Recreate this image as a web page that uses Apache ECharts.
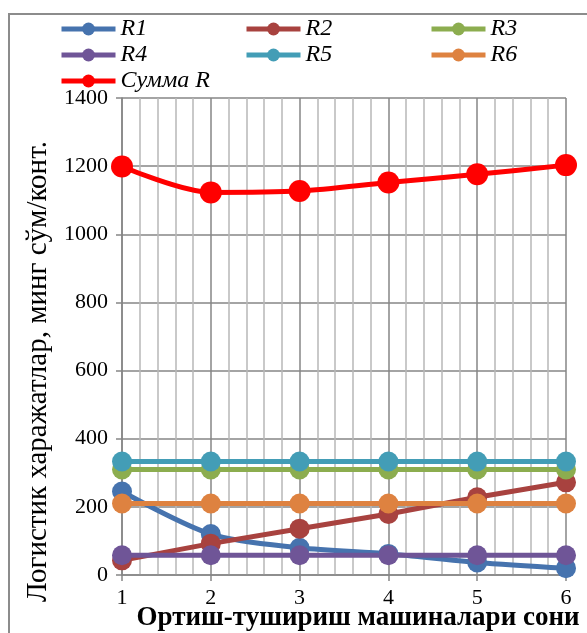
<!DOCTYPE html>
<html>
<head>
<meta charset="utf-8">
<script src="https://cdn.jsdelivr.net/npm/echarts@6/dist/echarts.min.js"></script>
<style>
  html, body { margin: 0; padding: 0; background: #fff; }
  #chart { width: 587px; height: 633px; }
</style>
</head>
<body>
<div id="chart"></div>
<script>
// Number of loading/unloading machines
const machines = [1, 2, 3, 4, 5, 6];

// Logistic cost components, thousand sum per container
const r1 = [245, 120, 80, 62, 37, 20];
const r2 = [43, 92, 136, 179, 228, 272];
const r3 = [310, 310, 310, 310, 310, 310];
const r4 = [58, 58, 58, 58, 58, 58];
const r5 = [333, 333, 333, 333, 333, 333];
const r6 = [210, 210, 210, 210, 210, 210];
const sumR = [1199, 1123, 1127, 1152, 1176, 1203];

const yTicks = [0, 200, 400, 600, 800, 1000, 1200, 1400];

const seriesNames = ['R1', 'R2', 'R3', 'R4', 'R5', 'R6', 'Сумма R'];
const seriesData = [r1, r2, r3, r4, r5, r6, sumR];
const seriesColors = ['#4673AE', '#A8423F', '#8CAD4F', '#6F5597', '#439DB6', '#DE8240', '#FF0000'];

const FONT = '"Liberation Serif", "Times New Roman", serif';

const chart = echarts.init(document.getElementById('chart'));

const series = seriesNames.map((name, i) => ({
  name,
  type: 'line',
  data: machines.map((m, j) => [m, seriesData[i][j]]),
  smooth: (i === 0 || i === 6) ? 0.3 : false,
  symbol: 'circle',
  symbolSize: i === 6 ? 22 : 20,
  showSymbol: true,
  lineStyle: { width: 5, color: seriesColors[i] },
  itemStyle: { color: seriesColors[i] },
  emphasis: { disabled: true },
  animation: false
}));

function legendColumn(left, names) {
  return {
    orient: 'vertical',
    left,
    top: 11,
    itemWidth: 54,
    itemHeight: 16,
    itemGap: 0,
    data: names,
    lineStyle: { width: 5 },
    textStyle: {
      fontFamily: FONT, fontStyle: 'italic', fontSize: 24, lineHeight: 26,
      color: '#000', padding: [0, 0, 0, 0]
    }
  };
}

chart.setOption({
  animation: false,
  backgroundColor: '#fff',
  legend: [
    legendColumn(54, ['R1', 'R4', 'Сумма R']),
    legendColumn(239, ['R2', 'R5']),
    legendColumn(424, ['R3', 'R6'])
  ],
  grid: { left: 122, right: 21, top: 98, bottom: 58, containLabel: false, outerBoundsMode: 'none' },
  xAxis: {
    type: 'value',
    min: 1,
    max: 6,
    interval: 1,
    name: 'Ортиш-тушириш машиналари сони',
    nameLocation: 'middle',
    nameGap: 30,
    nameMoveOverlap: false,
    nameTextStyle: { fontFamily: FONT, fontWeight: 'bold', fontSize: 27, color: '#000', padding: [0, 0, 0, 28] },
    axisLine: { show: true, onZero: false, lineStyle: { color: '#868686', width: 1.5 } },
    axisTick: { show: true, length: 6, lineStyle: { color: '#868686', width: 1.5 } },
    minorTick: { show: false, splitNumber: 5 },
    axisLabel: { fontFamily: FONT, fontSize: 22, color: '#000', margin: 12 },
    splitLine: { show: true, lineStyle: { color: '#868686', width: 1.5 } },
    minorSplitLine: { show: true, lineStyle: { color: '#b8b8b8', width: 1.5 } }
  },
  yAxis: {
    type: 'value',
    min: 0,
    max: 1400,
    interval: 200,
    name: 'Логистик харажатлар, минг сўм/конт.',
    nameLocation: 'middle',
    nameGap: 69,
    nameTextStyle: { fontFamily: FONT, fontSize: 29, color: '#000', padding: [0, 0, 0, -70] },
    axisLine: { show: true, lineStyle: { color: '#868686', width: 1.5 } },
    axisTick: { show: true, length: 6, lineStyle: { color: '#868686', width: 1.5 } },
    axisLabel: {
      fontFamily: FONT, fontSize: 22, color: '#000', margin: 14,
      formatter: v => (yTicks.includes(v) ? String(v) : '')
    },
    splitLine: { show: true, lineStyle: { color: '#868686', width: 1.5 } }
  },
  graphic: [{
    type: 'rect',
    shape: { x: 9, y: 14, width: 590, height: 640 },
    style: { fill: 'none', stroke: '#8c8c8c', lineWidth: 2 },
    silent: true,
    z: 100
  }],
  series
});
</script>
</body>
</html>
